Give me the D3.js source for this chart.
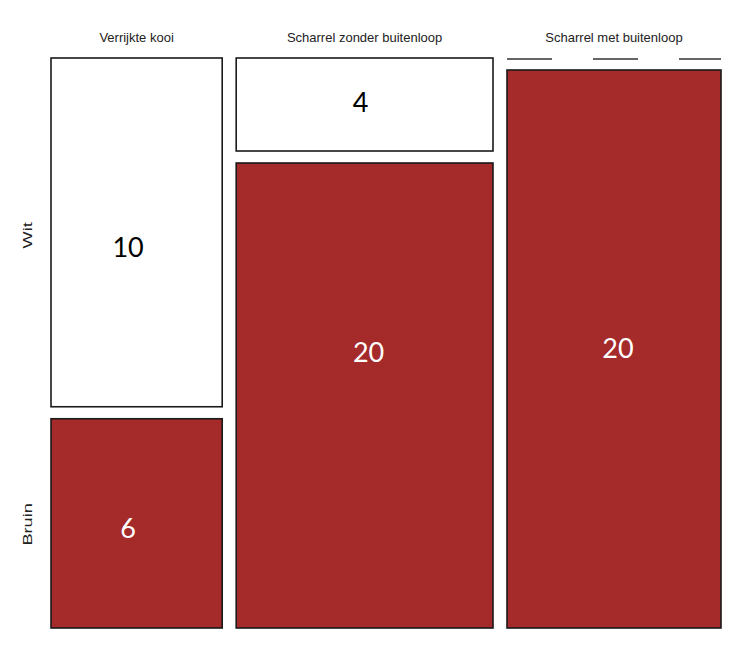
<!DOCTYPE html>
<html><head><meta charset="utf-8">
<script src="https://cdn.jsdelivr.net/npm/d3@7"></script>
<style>body{margin:0;background:#fff}</style>
</head><body>
<svg id="c" width="739" height="647"></svg>
<script>
const categories = ["Verrijkte kooi", "Scharrel zonder buitenloop", "Scharrel met buitenloop"];
const rowLabels = ["Wit", "Bruin"];
const witValues = [10, 4, 0];
const bruinValues = [6, 20, 20];

(function () {
// label nudges (layout only), [dx, dy] per column for Wit and Bruin cells
const nudgeWit = [[-8.5, 14.5], [-4, -2], [0, 0]];
const nudgeBruin = [[-8.5, 5], [4, -43], [4, -1]];

const svg = d3.select("#c");
const pLeft = 51, pRight = 721, pTop = 58, pBottom = 628;
const hGap = 14, vGap = 12;
const totals = categories.map((c, i) => witValues[i] + bruinValues[i]);
const grand = d3.sum(totals);

const xs = d3.scaleLinear().domain([0, grand]).range([0, pRight - pLeft - hGap * (categories.length - 1)]);
const ys = d3.scaleLinear().domain([0, 1]).range([0, pBottom - pTop - vGap]);

let cum = 0;
const cols = categories.map((c, i) => {
  const x0 = pLeft + xs(cum) + i * hGap;
  const w = xs(totals[i]);
  cum += totals[i];
  return {c, i, x0, w, wit: witValues[i], bruin: bruinValues[i], tot: totals[i]};
});

const fill = {Wit: "#ffffff", Bruin: "#a52a2a"};
const txtCol = {Wit: "#000000", Bruin: "#ffffff"};

cols.forEach(col => {
  const hW = ys(col.wit / col.tot);
  const hB = ys(col.bruin / col.tot);
  const cells = [
    {k: "Wit", v: col.wit, y: pTop, h: hW, n: nudgeWit[col.i]},
    {k: "Bruin", v: col.bruin, y: pTop + hW + vGap, h: hB, n: nudgeBruin[col.i]}
  ];
  cells.forEach(cell => {
    if (cell.v === 0) {
      svg.append("line")
        .attr("x1", col.x0).attr("x2", col.x0 + col.w)
        .attr("y1", cell.y + 1).attr("y2", cell.y + 1)
        .attr("stroke", "#333").attr("stroke-width", 1.6)
        .attr("stroke-dasharray", "45,41");
      return;
    }
    svg.append("rect")
      .attr("x", col.x0).attr("y", cell.y)
      .attr("width", col.w).attr("height", cell.h)
      .attr("fill", fill[cell.k]).attr("stroke", "#1a1a1a").attr("stroke-width", 1.6);
    svg.append("text")
      .attr("x", col.x0 + col.w / 2 + cell.n[0])
      .attr("y", cell.y + cell.h / 2 + cell.n[1])
      .attr("dy", "0.36em")
      .attr("text-anchor", "middle")
      .attr("font-family", "Lato, 'Open Sans', sans-serif")
      .attr("font-size", 27)
      .attr("fill", txtCol[cell.k])
      .text(cell.v);
  });
  svg.append("text")
    .attr("x", col.x0 + col.w / 2).attr("y", 42)
    .attr("text-anchor", "middle")
    .attr("font-family", "'Liberation Sans Narrow', 'Liberation Sans', Arial, sans-serif")
    .attr("font-size", 13).attr("fill", "#222")
    .text(col.c);
});

const c0 = cols[0];
const hW0 = ys(c0.wit / c0.tot);
const hB0 = ys(c0.bruin / c0.tot);
const rowPos = [pTop + hW0 / 2 + 3, pTop + hW0 + vGap + hB0 / 2 + 1];
rowLabels.forEach((r, i) => {
  svg.append("text")
    .attr("transform", `translate(32,${rowPos[i]}) rotate(-90) scale(1.4,1)`)
    .attr("text-anchor", "middle")
    .attr("font-family", "'Liberation Sans', Arial, sans-serif")
    .attr("font-size", 13).attr("fill", "#222")
    .text(r);
});
})();
</script>
</body></html>
